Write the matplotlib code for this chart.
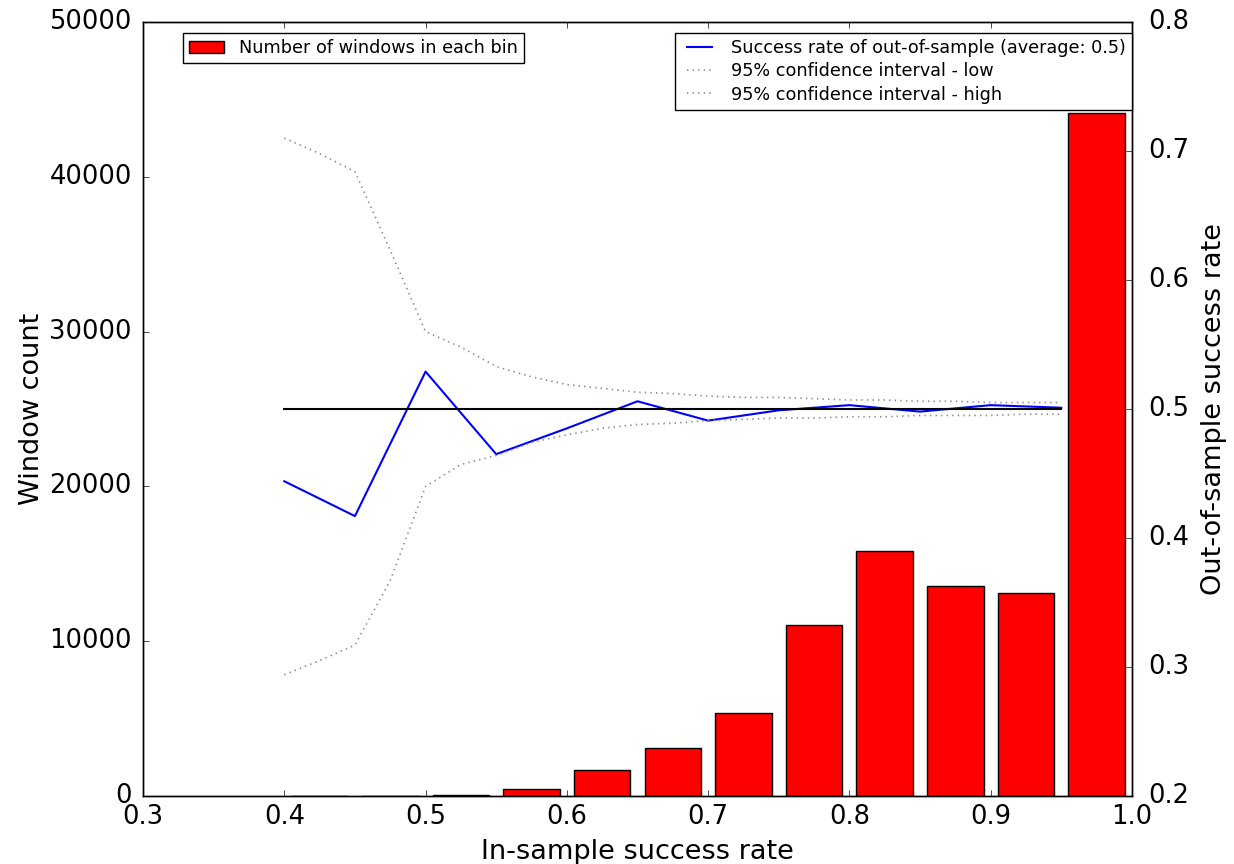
import numpy as np
import matplotlib
matplotlib.use("Agg")
import matplotlib.pyplot as plt

plt.style.use("classic")
plt.rcParams["font.family"] = ["DejaVu Sans"]

# Histogram of in-sample success rate (bins of 0.05 between 0.4 and 1.0)
bin_edges = [0.40, 0.45, 0.50, 0.55, 0.60, 0.65, 0.70, 0.75, 0.80, 0.85, 0.90, 0.95, 1.00]
window_counts = [10, 30, 70, 440, 1700, 3100, 5350, 11050, 15830, 13570, 13120, 44100]

# Out-of-sample success rate per bin (left edge of each bin)
rate_x = [0.40, 0.45, 0.50, 0.55, 0.60, 0.65, 0.70, 0.75, 0.80, 0.85, 0.90, 0.95]
rate_y = [0.444, 0.417, 0.529, 0.465, 0.485, 0.506, 0.491, 0.499, 0.503, 0.498, 0.503, 0.501]

# 95% confidence interval bounds
ci_x = [0.400, 0.425, 0.450, 0.475, 0.500, 0.525, 0.550, 0.575, 0.600, 0.625,
        0.650, 0.675, 0.700, 0.725, 0.750, 0.775, 0.800, 0.825, 0.850, 0.875,
        0.900, 0.925, 0.950]
ci_high = [0.710, 0.698, 0.684, 0.623, 0.560, 0.548, 0.533, 0.525, 0.519, 0.516,
           0.513, 0.512, 0.510, 0.509, 0.509, 0.508, 0.507, 0.507, 0.506, 0.506,
           0.505, 0.505, 0.505]
ci_low = [0.294, 0.305, 0.317, 0.367, 0.440, 0.457, 0.464, 0.474, 0.480, 0.485,
          0.488, 0.489, 0.491, 0.492, 0.493, 0.493, 0.494, 0.494, 0.495, 0.495,
          0.495, 0.496, 0.496]

average_rate = 0.5

TICK_FS = 18.5
LABEL_FS = 19.5
LEGEND_FS = 12.7

fig = plt.figure(figsize=(12.34, 8.64), dpi=100, facecolor="white")
ax1 = fig.add_axes([0.1159, 0.0787, 0.8014, 0.8958])
ax1.set_facecolor("white")

edges = np.array(bin_edges)
centers = (edges[:-1] + edges[1:]) / 2
widths = np.diff(edges) * 0.8
ax1.bar(centers, window_counts, width=widths, align="center",
        color="#ff0000", edgecolor="black", linewidth=1.0,
        label="Number of windows in each bin")
ax1.set_xlim(0.3, 1.0)
ax1.set_ylim(0, 50000)
ax1.set_xlabel("In-sample success rate", fontsize=LABEL_FS, labelpad=6)
ax1.set_ylabel("Window count", fontsize=LABEL_FS, labelpad=3)
ax1.tick_params(axis="x", labelsize=TICK_FS, pad=6)
ax1.tick_params(axis="y", labelsize=TICK_FS, pad=8)
ax1.legend(loc="upper left", bbox_to_anchor=(0.0404, 0.986), borderaxespad=0,
           fontsize=LEGEND_FS, handlelength=2.0, handletextpad=0.8,
           borderpad=0.35, labelspacing=0.3)

ax2 = ax1.twinx()
ax2.plot(rate_x, rate_y, color="#0000ff", linewidth=1.5,
         label="Success rate of out-of-sample (average: %s)" % average_rate)
ax2.plot(ci_x, ci_low, color="#8a8a8a", linestyle=":", linewidth=1.2,
         label="95% confidence interval - low")
ax2.plot(ci_x, ci_high, color="#8a8a8a", linestyle=":", linewidth=1.2,
         label="95% confidence interval - high")
ax2.plot([rate_x[0], rate_x[-1]], [average_rate, average_rate],
         color="black", linewidth=1.5)
ax2.set_ylim(0.2, 0.8)
ax2.set_xlim(0.3, 1.0)
ax2.set_ylabel("Out-of-sample success rate", fontsize=LABEL_FS, labelpad=8)
ax2.tick_params(axis="y", labelsize=TICK_FS, pad=12)
handles, labels = ax2.get_legend_handles_labels()
ax2.legend(handles[:3], labels[:3], loc="upper right",
           bbox_to_anchor=(1.0, 0.986), borderaxespad=0,
           fontsize=LEGEND_FS, handlelength=2.0, handletextpad=0.8,
           borderpad=0.35, labelspacing=0.3)

fig.savefig("out.png", dpi=100, facecolor="white")
